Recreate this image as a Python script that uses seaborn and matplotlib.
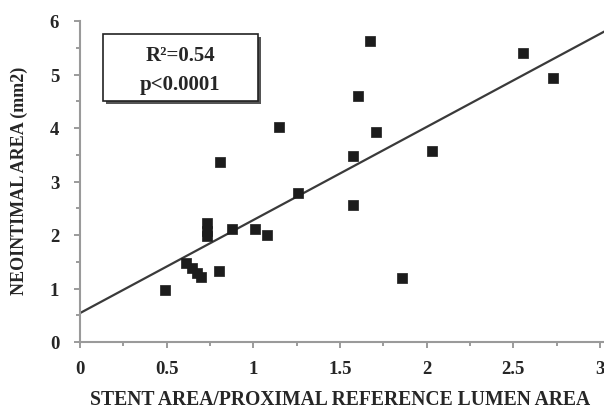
import numpy as np
import pandas as pd
import seaborn as sns
import matplotlib.pyplot as plt
from matplotlib.patches import Rectangle
from matplotlib.ticker import MultipleLocator

# Values.
stent_ratio = [0.49, 0.61, 0.645, 0.675, 0.70, 0.80, 0.73, 0.73, 0.73, 0.875,
               1.01, 1.08, 0.805, 1.15, 1.255, 1.575, 1.575, 1.605, 1.675,
               1.71, 1.855, 2.03, 2.555, 2.73]
neointimal_area = [0.97, 1.47, 1.38, 1.29, 1.21, 1.33, 2.22, 2.08, 1.98, 2.12,
                   2.12, 2.00, 3.36, 4.02, 2.79, 3.47, 2.56, 4.60, 5.63,
                   3.92, 1.19, 3.57, 5.40, 4.93]

# Regression line as drawn in the figure.
fit_intercept = 0.54
fit_slope = 1.74
fit_x = [0.0, 3.03]

x_ticks = [0, 0.5, 1, 1.5, 2, 2.5, 3]
x_tick_labels = ['0', '0.5', '1', '1.5', '2', '2.5', '3']
y_ticks = [0, 1, 2, 3, 4, 5, 6]

df = pd.DataFrame({'ratio': stent_ratio, 'area': neointimal_area})
line_df = pd.DataFrame({'x': fit_x})
line_df['y'] = fit_intercept + fit_slope * line_df['x']

sns.set_style('ticks')
plt.rcParams['font.family'] = ['Liberation Serif', 'DejaVu Serif']
plt.rcParams['font.weight'] = 'bold'

fig = plt.figure(figsize=(6.04, 4.10), dpi=100)
ax = fig.add_axes([80 / 604, 1 - 343 / 410, 524 / 604, 321 / 410])

sns.lineplot(data=line_df, x='x', y='y', ax=ax, color='#3a3a3a', linewidth=1.6)
sns.scatterplot(data=df, x='ratio', y='area', ax=ax, marker='s', s=62,
                color='#1c1c1c', edgecolor='#1c1c1c', linewidth=0.5, zorder=3)

ax.set_xlim(0, 3.023)
ax.set_ylim(0, 6)
ax.set_xticks(x_ticks)
ax.set_xticklabels(x_tick_labels)
ax.set_yticks(y_ticks)
ax.xaxis.set_minor_locator(MultipleLocator(0.25))
ax.yaxis.set_minor_locator(MultipleLocator(0.5))

for side in ['top', 'right']:
    ax.spines[side].set_visible(False)
for side in ['left', 'bottom']:
    ax.spines[side].set_color('#9a9a9a')
    ax.spines[side].set_linewidth(1.5)

ax.tick_params(axis='both', which='both', direction='out', color='#8a8a8a',
               width=1.2, labelsize=13.5, bottom=True, left=True)
ax.tick_params(axis='both', which='major', length=4)
ax.tick_params(axis='both', which='minor', length=3)
ax.tick_params(axis='x', which='major', pad=9)
ax.tick_params(axis='y', which='major', pad=11)
for lbl in ax.get_xticklabels() + ax.get_yticklabels():
    lbl.set_fontweight('bold')

ax.set_xlabel('STENT AREA/PROXIMAL REFERENCE LUMEN AREA', fontsize=14.1,
              fontweight='bold', ha='left')
ax.xaxis.set_label_coords(0.019, -0.146)
ax.set_ylabel('NEOINTIMAL AREA (mm2)', fontsize=13, fontweight='bold')
ax.yaxis.set_label_coords(-0.099, 0.505)

# Statistics box with a drop shadow.
bx0, bx1 = 103 / 604, 258 / 604
by0, by1 = 1 - 102 / 410, 1 - 35 / 410
fig.patches.append(Rectangle((bx0 + 3 / 604, by0 - 3 / 410), bx1 - bx0, by1 - by0,
                             transform=fig.transFigure, facecolor='#555555',
                             edgecolor='none', zorder=5))
fig.patches.append(Rectangle((bx0, by0), bx1 - bx0, by1 - by0,
                             transform=fig.transFigure, facecolor='white',
                             edgecolor='#222222', linewidth=1.2, zorder=6))
fig.text(180 / 604, 1 - 56 / 410, 'R\u00b2=0.54', ha='center', va='center',
         fontsize=15, fontweight='bold', zorder=7)
fig.text(180 / 604, 1 - 85 / 410, 'p<0.0001', ha='center', va='center',
         fontsize=15, fontweight='bold', zorder=7)

fig.savefig('out.png', dpi=100)
